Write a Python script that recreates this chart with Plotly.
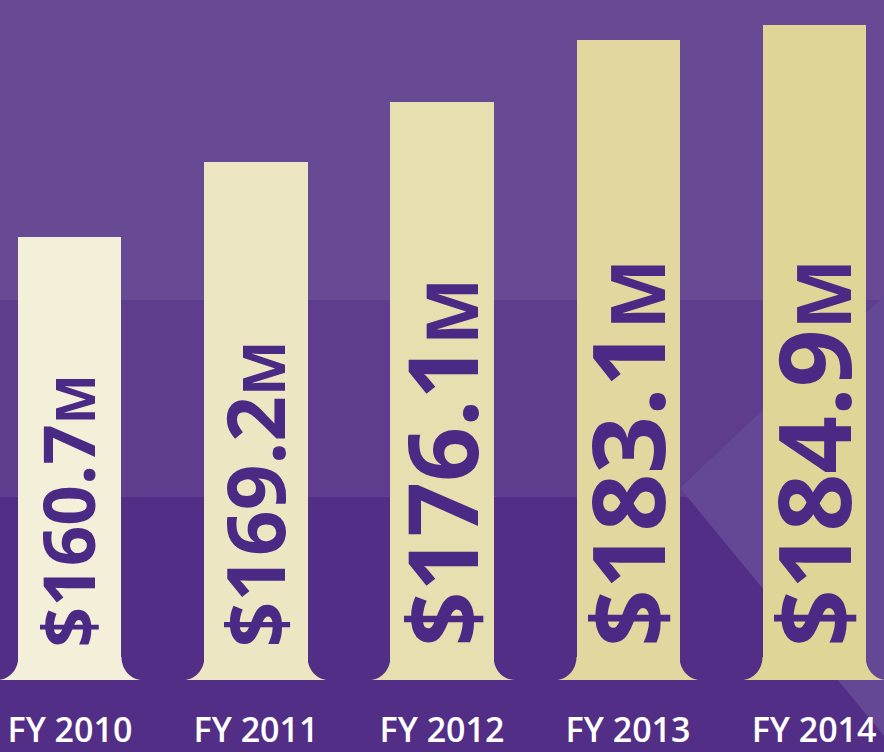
import plotly.graph_objects as go

# ---------------- data ----------------
categories = ["FY 2010", "FY 2011", "FY 2012", "FY 2013", "FY 2014"]
values = [160.7, 169.2, 176.1, 183.1, 184.9]          # $ millions
value_labels = ["$160.7", "$169.2", "$176.1", "$183.1", "$184.9"]
unit_label = "M"
bar_colors = ["#F3EFD8", "#ECE6C2", "#E7DFAF", "#E2D89F", "#DFD596"]
label_sizes = [71, 80, 96, 101, 101]   # label font sizes (px), grow with the bars

# ---------------- layout constants ----------------
W, H = 884, 752
MB = 72                      # bottom margin (tick labels)
PLOT_H = H - MB              # 680 px plot height
Y_MIN, Y_MAX = 110.2, 187.7  # value axis window
X_MIN, X_MAX = -0.376, 4.376
BAR_W = 0.554
TEXT_COLOR = "#4B2A86"

px_per_x = W / (X_MAX - X_MIN)
px_per_y = PLOT_H / (Y_MAX - Y_MIN)

x_idx = list(range(len(categories)))

fig = go.Figure()
fig.add_trace(go.Bar(
    x=x_idx, y=values, width=BAR_W,
    marker=dict(color=bar_colors, line=dict(width=0)),
    hoverinfo="skip", showlegend=False,
))

# ---------------- background decoration (paper coords) ----------------
def py(p):  # pixel row -> paper y
    return (PLOT_H - p) / PLOT_H

def px(p):
    return p / W

shapes = []
def rect(y0p, y1p, color):
    shapes.append(dict(type="rect", xref="paper", yref="paper",
                       x0=0, x1=1, y0=py(y1p), y1=py(y0p),
                       fillcolor=color, line=dict(width=0), layer="below"))

rect(0, 300, "#684A94")
rect(300, 497, "#5E3D8E")
rect(497, H, "#532E86")

# light chevron on the right
chev = [(680, 488), (884, 296), (884, 736)]
path = "M " + " L ".join(f"{px(a)},{py(b)}" for a, b in chev) + " Z"
shapes.append(dict(type="path", xref="paper", yref="paper", path=path,
                   fillcolor="#654895", line=dict(width=0), layer="below"))

# flared feet of the bars (concave fillets), built from the bar positions
r = 21 / px_per_x
h = 23 / px_per_y
ov = 3 / px_per_x            # overlap into the bar to hide seams
k = 0.552
for i, c in zip(x_idx, bar_colors):
    xl = i - BAR_W / 2
    xr = i + BAR_W / 2
    yb = Y_MIN
    left = (f"M {xl + ov},{yb + h} L {xl},{yb + h} C {xl},{yb + h * (1 - k)} "
            f"{xl - r * (1 - k)},{yb} {xl - r},{yb} L {xl + ov},{yb} Z")
    right = (f"M {xr - ov},{yb + h} L {xr},{yb + h} C {xr},{yb + h * (1 - k)} "
             f"{xr + r * (1 - k)},{yb} {xr + r},{yb} L {xr - ov},{yb} Z")
    for p in (left, right):
        shapes.append(dict(type="path", xref="x", yref="y", path=p,
                           fillcolor=c, line=dict(width=0), layer="above"))

# ---------------- value labels inside bars ----------------
annotations = []
for i, lab, fs in zip(x_idx, value_labels, label_sizes):
    annotations.append(dict(
        x=i, y=Y_MIN, xref="x", yref="y",
        text=f"{lab}<span style='font-size:{round(fs * 0.74)}px'>{unit_label}</span>",
        textangle=-90, showarrow=False,
        xanchor="center", yanchor="bottom", yshift=31, xshift=-2,
        font=dict(family="Open Sans", size=fs, color=TEXT_COLOR, weight=700),
    ))

fig.update_layout(
    width=W, height=H,
    margin=dict(l=0, r=0, t=0, b=MB, pad=0, autoexpand=False),
    paper_bgcolor="#532E86", plot_bgcolor="rgba(0,0,0,0)",
    shapes=shapes, annotations=annotations,
    xaxis=dict(range=[X_MIN, X_MAX], tickvals=x_idx, ticktext=categories,
               showgrid=False, zeroline=False, showline=False, automargin=False,
               ticks="outside", ticklen=20, tickcolor="rgba(0,0,0,0)",
               tickfont=dict(family="Open Sans", size=34, color="#FFFFFF", weight=600),
               fixedrange=True),
    yaxis=dict(range=[Y_MIN, Y_MAX], visible=False, fixedrange=True, automargin=False),
    bargap=0,
)

fig.write_html("out.html")
